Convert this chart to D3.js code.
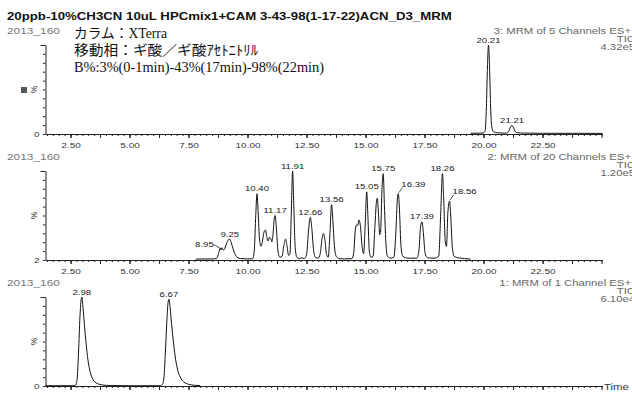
<!DOCTYPE html>
<html>
<head>
<meta charset="utf-8">
<script src="https://cdn.jsdelivr.net/npm/d3@7"></script>
<style>
  html, body { margin: 0; padding: 0; background: #fff; }
  svg { display: block; font-family: "Liberation Sans", Arial, sans-serif; }
</style>
</head>
<body>
<svg id="chart" width="632" height="394"></svg>
<script>
const timeRange = [1.44, 25.04];
const xTickValues = [2.5, 5, 7.5, 10, 12.5, 15, 17.5, 20, 22.5];
const xTickLabels = ["2.50", "5.00", "7.50", "10.00", "12.50", "15.00", "17.50", "20.00", "22.50"];

const chartTitle = "20ppb-10%CH3CN 10uL HPCmix1+CAM 3-43-98(1-17-22)ACN_D3_MRM";
const sampleName = "2013_160";
const methodNotes = ["カラム：XTerra", "移動相：ギ酸／ギ酸ｱｾﾄﾆﾄﾘﾙ", "B%:3%(0-1min)-43%(17min)-98%(22min)"];

// Fonction 3 (panneau du haut)
const fn3Info = ["3: MRM of 5 Channels ES+", "TIC", "4.32e5"];
const fn3Peaks = [20.21, 21.21];
const fn3Trace = [
  [19.45, 0.8], [19.8, 0.9], [20.0, 1.2], [20.07, 4], [20.12, 30], [20.16, 70], [20.21, 100],
  [20.26, 70], [20.30, 30], [20.35, 8], [20.42, 2.5], [20.6, 1.3], [20.9, 1], [21.02, 1.5],
  [21.09, 4.5], [21.15, 8.5], [21.21, 9.5], [21.27, 7], [21.34, 3], [21.42, 1.5], [21.7, 1],
  [22.5, 0.8], [25.04, 0.7]
];

// Fonction 2 (panneau du milieu)
const fn2Info = ["2: MRM of 20 Channels ES+", "TIC", "1.20e5"];
const fn2Peaks = [8.95, 9.25, 10.40, 11.17, 11.91, 12.66, 13.56, 15.05, 15.75, 16.39, 17.39, 18.26, 18.56];
const fn2Trace = [
  [7.80, 3], [8.55, 3.2], [8.70, 4], [8.78, 10], [8.84, 15], [8.88, 13], [8.92, 15.5], [8.95, 14],
  [8.99, 13], [9.04, 15], [9.11, 20], [9.18, 24], [9.25, 25], [9.31, 21], [9.38, 15], [9.46, 9],
  [9.56, 5], [9.70, 3.6], [10.00, 3.2], [10.22, 3.3],
  [10.29, 14], [10.35, 52], [10.40, 75], [10.45, 55], [10.51, 24], [10.57, 17], [10.64, 24],
  [10.70, 33], [10.76, 35], [10.82, 27], [10.87, 23], [10.93, 27], [10.98, 26], [11.03, 22],
  [11.08, 30], [11.13, 47], [11.17, 51], [11.22, 38], [11.29, 12], [11.37, 5], [11.46, 6],
  [11.54, 18], [11.61, 25], [11.67, 18], [11.74, 7], [11.80, 9], [11.85, 50], [11.91, 100],
  [11.96, 62], [12.02, 16], [12.09, 5], [12.20, 3.5], [12.30, 4.5], [12.40, 3.5], [12.50, 8],
  [12.59, 36], [12.66, 49], [12.72, 38], [12.79, 15], [12.87, 5], [12.99, 4], [13.08, 9],
  [13.16, 26], [13.22, 31], [13.28, 24], [13.35, 8], [13.42, 5], [13.49, 30], [13.56, 63],
  [13.61, 48], [13.68, 18], [13.76, 6], [13.88, 3.5], [14.10, 3.2], [14.42, 3.5], [14.50, 10],
  [14.57, 36], [14.63, 41], [14.67, 40], [14.72, 46], [14.78, 40], [14.85, 18], [14.92, 9],
  [14.98, 38], [15.05, 77], [15.10, 50], [15.16, 12], [15.23, 5], [15.32, 6], [15.40, 40],
  [15.46, 66], [15.50, 70], [15.55, 52], [15.60, 30], [15.64, 34], [15.70, 82], [15.75, 97],
  [15.80, 62], [15.86, 22], [15.93, 6], [16.05, 4], [16.20, 5], [16.28, 30], [16.35, 70],
  [16.39, 75], [16.44, 56], [16.50, 18], [16.58, 6], [16.80, 4], [17.17, 4], [17.26, 12],
  [17.33, 38], [17.39, 44], [17.45, 32], [17.52, 10], [17.62, 4.5], [17.90, 4], [18.10, 6],
  [18.18, 50], [18.26, 97], [18.31, 70], [18.38, 22], [18.43, 17], [18.49, 55], [18.56, 67],
  [18.61, 50], [18.68, 15], [18.76, 6], [18.90, 4.5], [19.05, 4], [19.20, 3.5], [19.45, 3]
];

// Fonction 1 (panneau du bas)
const fn1Info = ["1: MRM of 1 Channel ES+", "TIC", "6.10e4"];
const fn1Peaks = [2.98, 6.67];
const fn1Trace = [
  [1.44, 0.3], [2.60, 0.3], [2.72, 1], [2.78, 8], [2.84, 38], [2.90, 78], [2.95, 97], [2.98, 100],
  [3.03, 88], [3.09, 68], [3.16, 48], [3.24, 29], [3.34, 15], [3.46, 7], [3.62, 3], [3.85, 1.2],
  [4.2, 0.5], [5.0, 0.3], [6.30, 0.3], [6.40, 2], [6.46, 10], [6.52, 38], [6.58, 72], [6.63, 93],
  [6.67, 97.5], [6.72, 88], [6.78, 70], [6.85, 52], [6.93, 34], [7.03, 19], [7.15, 10],
  [7.30, 4.5], [7.50, 2], [7.75, 0.8], [8.0, 0.4]
];

const yAxisMins = [0, 2, 0];

// Mise en page
const plotLeft = 45.5, plotRight = 602.5;
const panelTops = [45, 171, 297];
const panelHeight = 89;
const leaderSide = { "8.95": "left", "16.39": "right", "18.56": "right" };

const svg = d3.select('#chart');
const x = d3.scaleLinear().domain(timeRange).range([plotLeft, plotRight]);

function addText(g, txt, px, py, size, sx, anchor, color) {
  return g.append('text')
    .attr('transform', `translate(${px},${py}) scale(${sx},1)`)
    .attr('text-anchor', anchor)
    .style('font-size', size + 'px')
    .style('fill', color)
    .text(txt);
}

// Titre et annotations
addText(svg, chartTitle, 7, 20, 10.5, 1.26, 'start', '#111').style('font-weight', 'bold');

const noteWidths = [93, 184, 250];
const noteY = [37.5, 55, 71.5];
methodNotes.forEach(function (line, i) {
  svg.append('text')
    .attr('x', 74).attr('y', noteY[i])
    .attr('textLength', noteWidths[i])
    .attr('lengthAdjust', 'spacingAndGlyphs')
    .style('font-family', "'Liberation Serif', 'Noto Sans CJK JP', serif")
    .style('font-size', '14px')
    .style('fill', '#111')
    .text(line);
});

const panels = [
  { trace: fn3Trace, peaks: fn3Peaks, info: fn3Info },
  { trace: fn2Trace, peaks: fn2Peaks, info: fn2Info },
  { trace: fn1Trace, peaks: fn1Peaks, info: fn1Info }
];

panels.forEach(function (p, i) {
  const top = panelTops[i];
  const base = top + panelHeight;
  const yMin = yAxisMins[i];
  const y = d3.scaleLinear().domain([yMin, 100]).range([base, top]);
  const g = svg.append('g');

  // axe X : graduations mineures, moyennes, puis libellées
  const minor = g.append('g').attr('transform', `translate(0,${base})`)
    .call(d3.axisBottom(x).tickValues(d3.range(1.5, 25.01, 0.25)).tickSize(2).tickSizeOuter(0).tickFormat(''));
  minor.select('.domain').remove();
  const mid = g.append('g').attr('transform', `translate(0,${base})`)
    .call(d3.axisBottom(x).tickValues(d3.range(2.5, 25.01, 1.25)).tickSize(4).tickSizeOuter(0).tickFormat(''));
  mid.select('.domain').remove();
  const major = g.append('g').attr('transform', `translate(0,${base})`)
    .call(d3.axisBottom(x).tickValues(xTickValues).tickFormat((d, k) => xTickLabels[k])
      .tickSize(4).tickSizeOuter(0).tickPadding(4));
  major.selectAll('text')
    .attr('transform', 'scale(1.25,1)')
    .style('font-size', '8px').style('fill', '#333')
    .style('font-family', '"Liberation Sans", Arial, sans-serif');

  // axe Y
  const yTicks = d3.range(11).map(k => yMin + k * (100 - yMin) / 10);
  g.append('g').attr('transform', `translate(${plotLeft},0)`)
    .call(d3.axisLeft(y).tickValues(yTicks).tickSize(2.5).tickSizeOuter(0).tickFormat(''));
  const topTick = g.append('g').attr('transform', `translate(${plotLeft},0)`)
    .call(d3.axisLeft(y).tickValues([100]).tickSize(5).tickFormat(''));
  topTick.select('.domain').remove();
  g.selectAll('.domain, .tick line').style('stroke', '#222').style('stroke-width', 1);

  addText(g, String(yMin), 39.5, base + 3, 8, 1.25, 'end', '#333');
  g.append('text')
    .attr('transform', `translate(36.5,${(top + base) / 2}) rotate(-90)`)
    .attr('text-anchor', 'middle')
    .style('font-size', '8.5px').style('fill', '#333')
    .text('%');

  // en-têtes gris
  addText(g, sampleName, 7, top - 11, 8.5, 1.4, 'start', '#777');
  addText(g, p.info[0], 631, top - 11, 8.5, 1.33, 'end', '#666');
  addText(g, p.info[1], 635, top - 3, 8.5, 1.33, 'end', '#666');
  addText(g, p.info[2], 635, top + 5, 8.5, 1.33, 'end', '#666');

  // tracé
  const line = d3.line().x(d => x(d[0])).y(d => y(d[1])).curve(d3.curveMonotoneX);
  g.append('path').datum(p.trace)
    .attr('d', line)
    .style('fill', 'none').style('stroke', '#111').style('stroke-width', 1);

  // étiquettes des pics
  p.peaks.forEach(function (t) {
    const apex = d3.least(p.trace, d => Math.abs(d[0] - t));
    const px = x(t), py = y(apex[1]);
    const label = t.toFixed(2);
    const side = leaderSide[label];
    if (side === 'left') {
      g.append('line').attr('x1', px - 9).attr('y1', py - 4.5).attr('x2', px - 1).attr('y2', py)
        .style('stroke', '#222').style('stroke-width', 0.8);
      addText(g, label, px - 9, py - 2, 8, 1.2, 'end', '#1a1a1a');
    } else if (side === 'right') {
      g.append('line').attr('x1', px + 0.5).attr('y1', py - 1).attr('x2', px + 4).attr('y2', py - 6)
        .style('stroke', '#222').style('stroke-width', 0.8);
      addText(g, label, px + 3, py - 7, 8, 1.2, 'start', '#1a1a1a');
    } else {
      addText(g, label, px, py - 2.5, 8, 1.2, 'middle', '#1a1a1a');
    }
  });

  if (i === 0) {
    g.append('rect').attr('x', 21).attr('y', 87).attr('width', 6).attr('height', 6).style('fill', '#555');
  }
  if (i === panels.length - 1) {
    addText(g, 'Time', 604, base + 3.5, 9, 1.26, 'start', '#333');
  }
});
</script>
</body>
</html>
